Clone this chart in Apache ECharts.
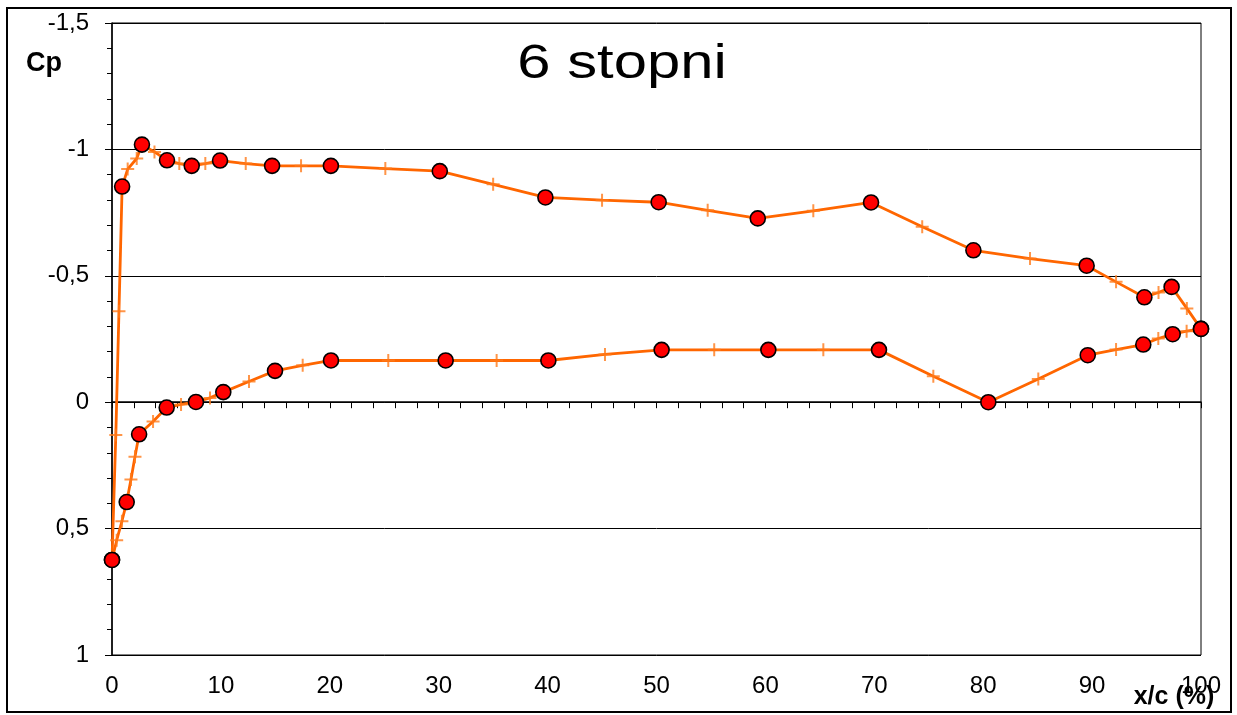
<!DOCTYPE html>
<html>
<head>
<meta charset="utf-8">
<script src="https://cdn.jsdelivr.net/npm/echarts@6/dist/echarts.min.js"></script>
<style>
  html, body { margin: 0; padding: 0; background: #fff; }
  #chart { width: 1237px; height: 715px; }
</style>
</head>
<body>
<div id="chart"></div>
<script>
// Pressure coefficient around the profile at 6 degrees angle of attack.
// Measured taps (drawn as red circles), upper surface, leading edge to trailing edge
const measuredUpperX  = [0, 0.93, 2.75, 5.05, 7.32, 9.92, 14.7, 20.1, 30.1, 39.8, 50.2, 59.3, 69.7, 79.1, 89.5, 94.8, 97.3, 100];
const measuredUpperCp = [0.624, -0.853, -1.019, -0.957, -0.935, -0.956, -0.935, -0.935, -0.914, -0.81, -0.791, -0.727, -0.79, -0.601, -0.54, -0.415, -0.456, -0.29];
// Measured taps, lower surface
const measuredLowerX  = [0, 1.35, 2.49, 5.02, 7.71, 10.22, 14.97, 20.11, 30.64, 40.07, 50.47, 60.27, 70.43, 80.47, 89.6, 94.7, 97.4, 100];
const measuredLowerCp = [0.624, 0.395, 0.127, 0.021, -0.001, -0.04, -0.124, -0.165, -0.165, -0.165, -0.207, -0.207, -0.207, 0, -0.186, -0.228, -0.269, -0.29];
// Intermediate points (drawn as + marks), upper surface
const interpUpperX  = [0.35, 0.64, 1.44, 2.27, 3.9, 6.18, 8.57, 12.28, 17.36, 25.1, 35, 45, 54.7, 64.4, 74.4, 84.3, 92.2, 96.1, 98.7];
const interpUpperCp = [0.13, -0.36, -0.922, -0.964, -0.99, -0.944, -0.944, -0.944, -0.935, -0.924, -0.862, -0.799, -0.759, -0.757, -0.694, -0.568, -0.476, -0.434, -0.371];
// Intermediate points, lower surface
const interpLowerX  = [0.43, 0.91, 1.74, 2.11, 3.77, 6.34, 9.0, 12.58, 17.51, 25.37, 35.32, 45.27, 55.3, 65.32, 75.42, 85.06, 92.2, 96.08, 98.68];
const interpLowerCp = [0.546, 0.471, 0.306, 0.216, 0.076, 0.009, -0.017, -0.082, -0.146, -0.165, -0.165, -0.189, -0.207, -0.207, -0.103, -0.092, -0.208, -0.252, -0.281];

// Axis ticks
const yTicks = [-1.5, -1, -0.5, 0, 0.5, 1];
const xTicks = [0, 10, 20, 30, 40, 50, 60, 70, 80, 90, 100];

const titleText = '6 stopni';
const yName = 'Cp';
const xName = 'x/c (%)';

const pairs = (xs, ys) => xs.map((x, i) => [x, ys[i]]);
const merged = (a, b) => a.concat(b).sort((p, q) => p[0] - q[0]);

const upperMeasured = pairs(measuredUpperX, measuredUpperCp);
const lowerMeasured = pairs(measuredLowerX, measuredLowerCp);
const upperInterp = pairs(interpUpperX, interpUpperCp);
const lowerInterp = pairs(interpLowerX, interpLowerCp);

const ORANGE = '#FF6600';
const PLUS_COLOR = '#FF7A1A';
const PLUS = 'path://M6,0L6,12M0,6L12,6';
const font = 'Liberation Sans, Arial, sans-serif';

const chart = echarts.init(document.getElementById('chart'), null, { renderer: 'canvas' });

chart.setOption({
  animation: false,
  backgroundColor: '#fff',
  grid: { left: 112, top: 23, right: 36, bottom: 60, show: true, borderColor: '#000', borderWidth: 1 },
  xAxis: {
    type: 'value',
    min: xTicks[0], max: xTicks[xTicks.length - 1], interval: 10,
    axisLine: { lineStyle: { color: '#000', width: 1.5 } },
    axisTick: { show: true, length: 6, lineStyle: { color: '#000' } },
    minorTick: { show: true, splitNumber: 5, length: 6, lineStyle: { color: '#000' } },
    splitLine: { show: false },
    axisLabel: { color: '#000', fontFamily: font, fontSize: 24, margin: 19 }
  },
  yAxis: {
    type: 'value',
    inverse: true,
    min: yTicks[0], max: yTicks[yTicks.length - 1], interval: 0.5,
    axisLine: { show: true, lineStyle: { color: '#000', width: 1.5 } },
    axisTick: { show: true, length: 7, lineStyle: { color: '#000' } },
    minorTick: { show: true, splitNumber: 5, length: 5, lineStyle: { color: '#000' } },
    splitLine: { show: true, lineStyle: { color: '#000', width: 1 } },
    axisLabel: {
      color: '#000', fontFamily: font, fontSize: 24, margin: 23,
      formatter: v => String(v).replace('.', ',')
    }
  },
  series: [
    { type: 'line', data: merged(upperMeasured, upperInterp), symbol: 'none', z: 2,
      lineStyle: { color: ORANGE, width: 2.8 } },
    { type: 'line', data: merged(lowerMeasured, lowerInterp), symbol: 'none', z: 2,
      lineStyle: { color: ORANGE, width: 2.8 } },
    { type: 'scatter', data: upperInterp.concat(lowerInterp), symbol: PLUS, symbolSize: 13, z: 3,
      itemStyle: { color: 'rgba(0,0,0,0)', borderColor: PLUS_COLOR, borderWidth: 2 } },
    { type: 'scatter', data: upperMeasured.concat(lowerMeasured), symbol: 'circle', symbolSize: 15, z: 4,
      itemStyle: { color: '#FF0000', borderColor: '#000', borderWidth: 1.6, opacity: 1 } }
  ],
  graphic: [
    { type: 'rect', shape: { x: 7, y: 8, width: 1224, height: 704 }, silent: true, z: 0,
      style: { fill: 'none', stroke: '#000', lineWidth: 2 } },
    { type: 'text', x: 622, y: 64, scaleX: 1.22, z: 10,
      style: { text: titleText, font: '49px ' + font, fill: '#000', align: 'center', verticalAlign: 'middle' } },
    { type: 'text', x: 26, y: 64, z: 10,
      style: { text: yName, font: 'bold 27px ' + font, fill: '#000', align: 'left', verticalAlign: 'middle' } },
    { type: 'text', x: 1174, y: 697, z: 10,
      style: { text: xName, font: 'bold 25px ' + font, fill: '#000', align: 'center', verticalAlign: 'middle' } }
  ]
});
</script>
</body>
</html>
